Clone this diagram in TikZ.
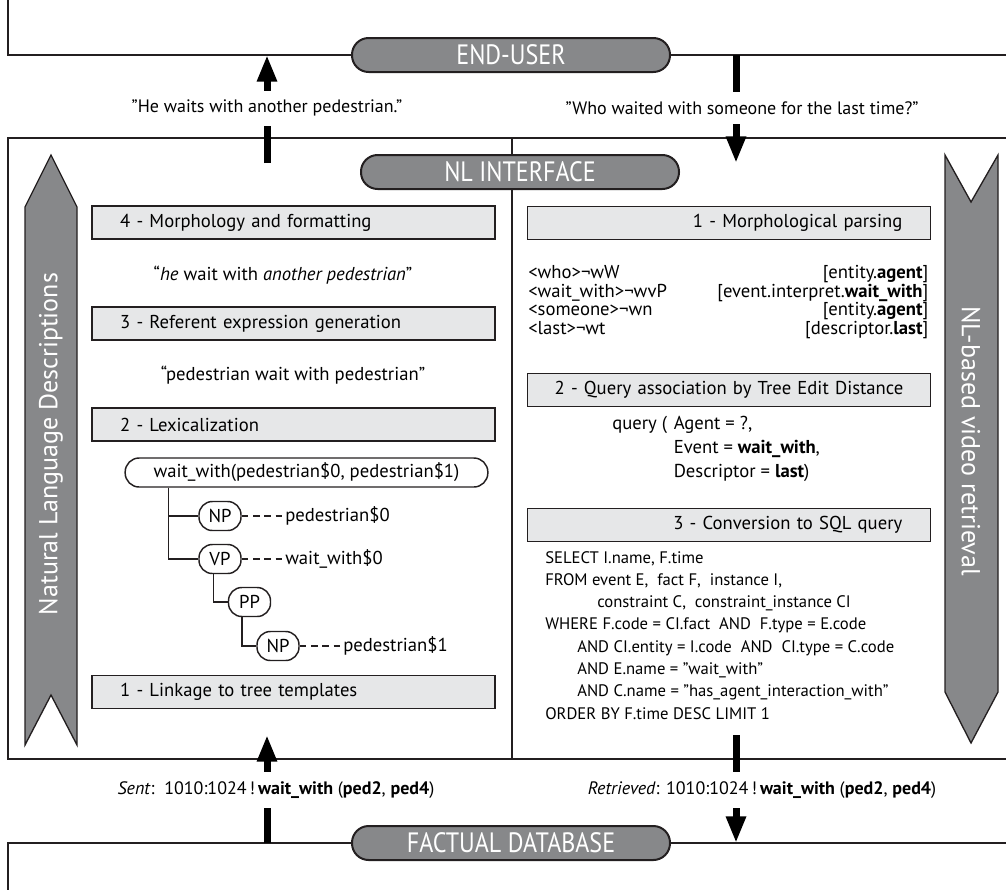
\documentclass[tikz,border=0pt]{standalone}
\usepackage{fontspec}
\setmainfont{PT Sans}
\newfontfamily\pillfont[FakeStretch=0.86]{PT Sans}
\usepackage{tikz}
\usetikzlibrary{arrows.meta}

\definecolor{linegrey}{HTML}{231F20}
\definecolor{pillgrey}{HTML}{87888A}
\definecolor{boxgrey}{HTML}{E6E7E8}

\begin{document}
\begin{tikzpicture}[x=0.75pt,y=-0.75pt,
  every node/.style={inner sep=0pt},
  frame/.style={draw=linegrey,line width=1.4pt},
  pill/.style={draw=linegrey,line width=1.5pt,fill=pillgrey,rounded corners=12.5pt,
    minimum width=238.5pt,minimum height=25.5pt,text=white,font=\pillfont\fontsize{21}{22}\selectfont},
  stepbox/.style={draw=linegrey,line width=1.2pt,fill=boxgrey,minimum height=25pt,
    text width=260pt,inner xsep=21pt,font=\fontsize{14}{16}\selectfont},
  tnode/.style={draw=linegrey,line width=1.1pt,rounded corners=10pt,minimum width=31.5pt,
    minimum height=21.75pt,font=\fontsize{14}{16}\selectfont},
  bigarrow/.style={line width=5.25pt,-{Triangle[length=20pt,width=14pt]}},
  msg/.style={fill=white,inner xsep=3pt,inner ysep=7pt,font=\fontsize{13.5}{15}\selectfont},
  side/.style={draw=linegrey,line width=1pt,fill=pillgrey},
  sidetext/.style={text=white,font=\fontsize{19.5}{21}\selectfont},
  body/.style={font=\fontsize{14}{16}\selectfont}]

\useasboundingbox (0,0) rectangle (1006,890);

% panels
\draw[frame] (8,0) -- (8,55) -- (1006,55);
\draw[frame] (1006,138) -- (8,138) -- (8,759) -- (1006,759);
\draw[frame] (512,138) -- (512,759);
\draw[frame] (1006,843) -- (8,843) -- (8,890);

\node[pill] (enduser) at (511,55) {END-USER};
\node[pill] (nliface) at (520,172) {NL INTERFACE};
\node[pill] (factdb) at (511,843) {FACTUAL DATABASE};

% side arrows
\draw[side] (25,745) -- (25,207) -- (51,155) -- (77,207) -- (77,745) -- (51,695) -- cycle;
\node[sidetext,rotate=90] (nldesc) at (51,444) {Natural Language Descriptions};
\draw[side] (945,155) -- (971,202) -- (998,155) -- (998,692) -- (971,743) -- (945,692) -- cycle;
\node[sidetext,rotate=-90] (nlretr) at (971,441) {NL-based video retrieval};

% messages between panels
\coordinate (gen1) at (267,163);
\coordinate (gen0) at (267,55);
\coordinate (ask0) at (736,55);
\coordinate (ask1) at (736,163);
\coordinate (sent0) at (267,843);
\coordinate (sent1) at (267,735);
\coordinate (ret1) at (736,735);
\coordinate (ret0) at (736,843);
\draw[bigarrow] (gen1) -- (gen0);
\draw[bigarrow] (ask0) -- (ask1);
\draw[bigarrow] (sent0) -- (sent1);
\draw[bigarrow] (ret1) -- (ret0);
\node[msg] (saytxt) at (267,108) {"He waits with another pedestrian."};
\node[msg] (asktxt) at (742,108) {"Who waited with someone for the last time?"};
\node[msg] (senttxt) at (276,790) {\textit{Sent}:\ \ 1010:1024\,!\,\textbf{wait\_with} (\textbf{ped2}, \textbf{ped4})};
\node[msg] (rettxt) at (762,790) {\textit{Retrieved}: 1010:1024\,!\,\textbf{wait\_with} (\textbf{ped2}, \textbf{ped4})};

% generation side
\node[stepbox,align=left] (morph) at (293.5,222.5) {4 - Morphology and formatting};
\node[body] (surface) at (283,275) {“\textit{he} wait with \textit{another pedestrian}”};
\node[stepbox,align=left] (refexp) at (293.5,323.5) {3 - Referent expression generation};
\node[body] (lemmas) at (293,375) {“pedestrian wait with pedestrian”};
\node[stepbox,align=left] (lexic) at (293.5,424.5) {2 - Lexicalization};
\node[stepbox,align=left] (linkage) at (293.5,692) {1 - Linkage to tree templates};

\node[tnode,minimum width=272pt,rounded corners=10.5pt] (root) at (306.5,472.5) {wait\_with(pedestrian\$0, pedestrian\$1)};
\node[tnode] (np1) at (220,516) {NP};
\node[tnode] (vp) at (220,559) {VP};
\node[tnode] (pp) at (249.5,602) {PP};
\node[tnode] (np2) at (278,646) {NP};
\draw[linegrey,line width=1.1pt] ([xshift=33pt]root.south west) |- (np1.west);
\draw[linegrey,line width=1.1pt] ([xshift=33pt]root.south west) |- (vp.west);
\draw[linegrey,line width=1.1pt] ([xshift=-5pt]vp.south) |- (pp.west);
\draw[linegrey,line width=1.1pt] ([xshift=-5.5pt]pp.south) |- (np2.west);
\node[body,anchor=west] (lex1) at (285,516) {pedestrian\$0};
\node[body,anchor=west] (lex2) at (285,559) {wait\_with\$0};
\node[body,anchor=west] (lex3) at (343,646) {pedestrian\$1};
\draw[linegrey,line width=1pt,dash pattern=on 5pt off 3.5pt] (np1.east) -- (lex1.west);
\draw[linegrey,line width=1pt,dash pattern=on 5pt off 3.5pt] (vp.east) -- (lex2.west);
\draw[linegrey,line width=1pt,dash pattern=on 5pt off 3.5pt] (np2.east) -- (lex3.west);

% retrieval side
\node[stepbox,align=right] (parsing) at (729,223) {1 - Morphological parsing};
\node[body,anchor=north west] (tags) at (528,265) {\fontsize{14}{13.7}\selectfont
  \begin{tabular*}{300pt}{@{}l@{\extracolsep{\fill}}r@{}}
  <who>¬wW & [entity.\textbf{agent}]\\
  <wait\_with>¬wvP & [event.interpret.\textbf{wait\_with}]\\
  <someone>¬wn & [entity.\textbf{agent}]\\
  <last>¬wt & [descriptor.\textbf{last}]
  \end{tabular*}};
\node[stepbox,align=center,text width=284pt,inner xsep=9pt] (assoc) at (729,390) {2 - Query association by Tree Edit Distance};
\node[body,anchor=north west] (query) at (612,412) {\fontsize{14}{18}\selectfont
  \begin{tabular}{@{}l@{\hspace{5pt}}l@{}}
  query ( & Agent = ?,\\
   & Event = \textbf{wait\_with},\\
   & Descriptor = \textbf{last})
  \end{tabular}};
\node[stepbox,align=right] (convert) at (729,525) {3 - Conversion to SQL query};
\node[anchor=north west,align=left,font=\fontsize{12.5}{16.7}\selectfont] (sql) at (545,551) {SELECT I.name, F.time\\
FROM event E,\ \ fact F,\ \ instance I,\\
\hspace{39pt}constraint C,\ \ constraint\_instance CI\\
WHERE F.code = CI.fact\ \ AND\ \ F.type = E.code\\
\hspace{24pt}AND CI.entity = I.code\ \ AND\ \ CI.type = C.code\\
\hspace{24pt}AND E.name = "wait\_with"\\
\hspace{24pt}AND C.name = "has\_agent\_interaction\_with"\\
ORDER BY F.time DESC LIMIT 1};

\end{tikzpicture}
\end{document}
